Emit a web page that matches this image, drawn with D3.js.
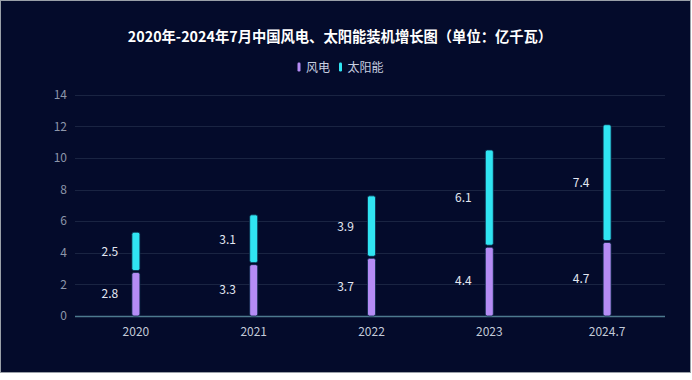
<!DOCTYPE html>
<html><head><meta charset="utf-8">
<script src="https://cdn.jsdelivr.net/npm/d3@7/dist/d3.min.js"></script>
<style>
html,body{margin:0;padding:0;background:#ffffff;}
svg{display:block;}
</style></head>
<body>
<svg id="chart" width="692" height="380"></svg>
<script>
const categories = ["2020", "2021", "2022", "2023", "2024.7"];
const seriesNames = ["风电", "太阳能"];
const wind = [2.8, 3.3, 3.7, 4.4, 4.7];
const solar = [2.5, 3.1, 3.9, 6.1, 7.4];
const yTicks = [0, 2, 4, 6, 8, 10, 12, 14];
const colors = ["#b58cf5", "#30e4f2"];
const titleText = "2020年-2024年7月中国风电、太阳能装机增长图（单位：亿千瓦）";

const svg = d3.select("#chart");
const font = "'Noto Sans CJK SC','Noto Sans',sans-serif";

// frame
svg.append("rect").attr("x", 0.5).attr("y", 0.5).attr("width", 690).attr("height", 372)
  .attr("fill", "#040b2b").attr("stroke", "#9aa0a8").attr("stroke-width", 1);

const x = d3.scaleBand().domain(categories).range([77, 666]);
const y = d3.scaleLinear().domain([0, 14]).range([316, 94.7]);

// gridlines
svg.append("g").selectAll("line").data(yTicks.filter(d => d > 0)).join("line")
  .attr("x1", 75).attr("x2", 665)
  .attr("y1", d => Math.round(y(d)) + 0.5).attr("y2", d => Math.round(y(d)) + 0.5)
  .attr("stroke", "#1a2442").attr("stroke-width", 1);

// y tick labels
svg.append("g").selectAll("text").data(yTicks).join("text")
  .attr("x", 67).attr("y", d => y(d)).attr("dy", "0.35em")
  .attr("text-anchor", "end").attr("fill", "#8d96aa")
  .style("font-family", font).style("font-size", "12px")
  .text(d => d);

// x axis line
svg.append("line").attr("x1", 75).attr("x2", 665).attr("y1", 316.5).attr("y2", 316.5)
  .attr("stroke", "#4d7a8e").attr("stroke-width", 1.5);

// x labels
svg.append("g").selectAll("text").data(categories).join("text")
  .attr("x", d => x(d) + x.bandwidth() / 2).attr("y", 336)
  .attr("text-anchor", "middle").attr("fill", "#c3cad8")
  .style("font-family", font).style("font-size", "12px")
  .text(d => d);

// stacked data
const table = categories.map((c, i) => ({cat: c, wind: wind[i], solar: solar[i]}));
const stack = d3.stack().keys(["wind", "solar"])(table);
const barW = 8;

stack.forEach((layer, li) => {
  const g = svg.append("g");
  g.selectAll("rect").data(layer).join("rect")
    .attr("x", d => x(d.data.cat) + x.bandwidth() / 2 - barW / 2)
    .attr("y", d => y(d[1]) + (li === 1 ? 0 : 0.8))
    .attr("width", barW)
    .attr("height", d => y(d[0]) - y(d[1]) - (li === 1 ? 1.2 : 0.8))
    .attr("rx", 2).attr("ry", 2)
    .attr("fill", colors[li])
    .attr("stroke", "#0b2a48").attr("stroke-width", 0.8);
  g.selectAll("text").data(layer).join("text")
    .attr("x", d => x(d.data.cat) + x.bandwidth() / 2 - 26)
    .attr("y", d => (y(d[0]) + y(d[1])) / 2)
    .attr("dy", "0.35em")
    .attr("text-anchor", "middle").attr("fill", "#e3e8f2")
    .style("font-family", font).style("font-size", "12px")
    .text(d => (d[1] - d[0]).toFixed(1));
});

// title
svg.append("text").attr("x", 340).attr("y", 37).attr("dy", "0.35em")
  .attr("text-anchor", "middle").attr("fill", "#ffffff")
  .style("font-family", font).style("font-size", "14.3px").style("font-weight", "bold")
  .text(titleText);

// legend
const legend = svg.append("g");
const legendItems = [{name: seriesNames[0], c: colors[0], mx: 297.5, tx: 306}, {name: seriesNames[1], c: colors[1], mx: 339, tx: 347.5}];
legendItems.forEach(it => {
  legend.append("rect").attr("x", it.mx).attr("y", 62.5).attr("width", 3).attr("height", 9)
    .attr("rx", 1.2).attr("fill", it.c);
  legend.append("text").attr("x", it.tx).attr("y", 67.5).attr("dy", "0.35em")
    .attr("fill", "#c8cfe0").style("font-family", font).style("font-size", "12px")
    .text(it.name);
});
</script>
</body></html>
